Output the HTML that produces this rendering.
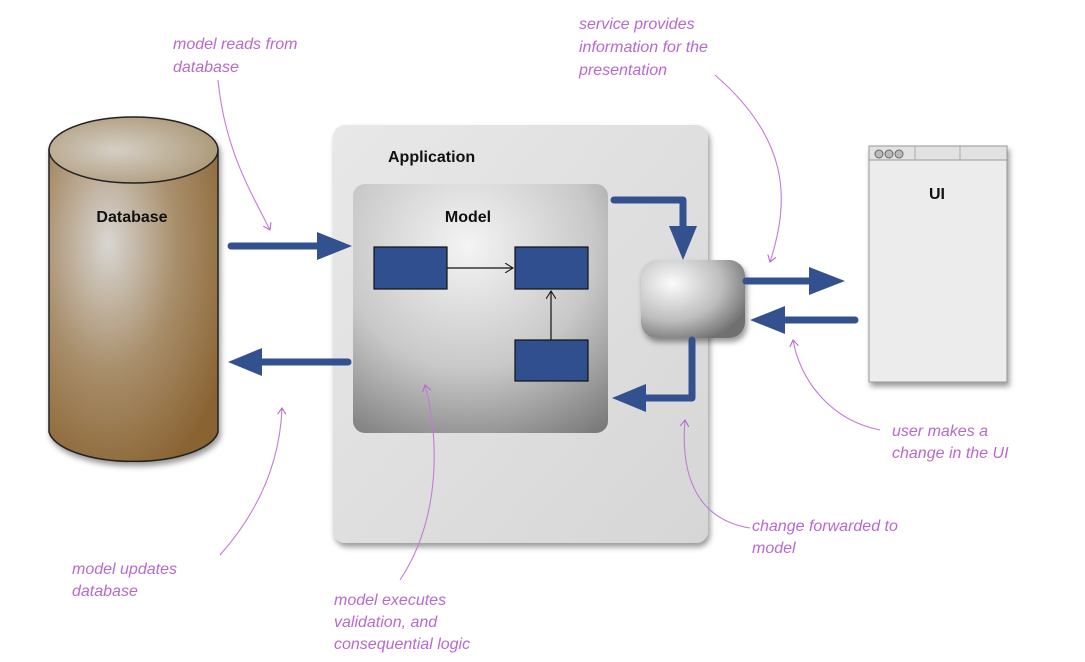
<!DOCTYPE html>
<html><head><meta charset="utf-8"><style>
body{margin:0;background:#fff;width:1085px;height:662px;overflow:hidden}
svg{display:block}
.a{font-family:"Liberation Sans",sans-serif;font-style:italic;font-size:16px;fill:#b968cf}
.b{font-family:"Liberation Sans",sans-serif;font-weight:bold;font-size:16px;fill:#111}
</style></head><body>
<svg width="1085" height="662" viewBox="0 0 1085 662" xmlns="http://www.w3.org/2000/svg">
<defs>
<radialGradient id="db" cx="0.35" cy="0.3" r="0.8">
<stop offset="0" stop-color="#d8d6d2"/><stop offset="0.5" stop-color="#a98f6c"/><stop offset="1" stop-color="#8a6332"/>
</radialGradient>
<radialGradient id="dbt" cx="0.4" cy="0.5" r="0.7">
<stop offset="0" stop-color="#d5cfc5"/><stop offset="1" stop-color="#a8926f"/>
</radialGradient>
<linearGradient id="app" x1="0" y1="0" x2="1" y2="1">
<stop offset="0" stop-color="#e8e8e8"/><stop offset="1" stop-color="#d6d6d6"/>
</linearGradient>
<radialGradient id="mod" cx="0.45" cy="0.25" r="0.9">
<stop offset="0" stop-color="#f4f4f4"/><stop offset="0.55" stop-color="#c8c8c8"/><stop offset="1" stop-color="#7a7a7a"/>
</radialGradient>
<radialGradient id="svc" cx="0.3" cy="0.3" r="0.8">
<stop offset="0" stop-color="#fbfbfb"/><stop offset="0.6" stop-color="#bdbdbd"/><stop offset="1" stop-color="#6f6f6f"/>
</radialGradient>
<filter id="sh" x="-10%" y="-10%" width="130%" height="130%"><feDropShadow dx="2" dy="4" stdDeviation="3" flood-opacity="0.4"/></filter>
<marker id="pa" markerWidth="8" markerHeight="8" refX="6" refY="4" orient="auto"><path d="M0,0 L6,4 L0,8" fill="none" stroke="#b968cf" stroke-width="1"/></marker>
<marker id="ka" markerWidth="10" markerHeight="10" refX="8" refY="5" orient="auto" markerUnits="userSpaceOnUse"><path d="M0,0 L8,5 L0,10" fill="none" stroke="#111" stroke-width="1"/></marker>
</defs>

<!-- Database -->
<g filter="url(#sh)">
<path d="M49,150 L49,432 A85,33 0 0 0 218,432 L218,150 Z" fill="url(#db)" stroke="#222" stroke-width="1.5"/>
<ellipse cx="133.5" cy="150" rx="84.5" ry="33" fill="url(#dbt)" stroke="#222" stroke-width="1.5"/>
</g>
<text class="b" x="132" y="222" text-anchor="middle" font-size="17">Database</text>

<!-- Application -->
<rect x="333" y="125" width="375" height="418" rx="12" fill="url(#app)" filter="url(#sh)"/>
<text class="b" x="388" y="162">Application</text>
<rect x="353" y="184" width="255" height="249" rx="12" fill="url(#mod)"/>
<text class="b" x="468" y="222" text-anchor="middle">Model</text>
<rect x="374" y="247" width="73" height="42" fill="#2f4f8f" stroke="#111" stroke-width="1.2"/>
<rect x="515" y="247" width="73" height="42" fill="#2f4f8f" stroke="#111" stroke-width="1.2"/>
<rect x="515" y="340" width="73" height="41" fill="#2f4f8f" stroke="#111" stroke-width="1.2"/>
<line x1="447" y1="268" x2="513" y2="268" stroke="#111" stroke-width="1.2" marker-end="url(#ka)"/>
<line x1="551" y1="340" x2="551" y2="291" stroke="#111" stroke-width="1.2" marker-end="url(#ka)"/>

<!-- Service -->
<rect x="641" y="260" width="104" height="78" rx="16" fill="url(#svc)" filter="url(#sh)"/>

<!-- UI -->
<g filter="url(#sh)">
<rect x="869" y="146" width="138" height="236" fill="#ececec" stroke="#999" stroke-width="1"/>
<rect x="869" y="146" width="138" height="14" fill="#e2e2e2" stroke="#999" stroke-width="1"/>
</g>
<line x1="915" y1="146" x2="915" y2="160" stroke="#aaa"/>
<line x1="960" y1="146" x2="960" y2="160" stroke="#aaa"/>
<circle cx="879" cy="154" r="4" fill="#bbb" stroke="#666"/>
<circle cx="889" cy="154" r="4" fill="#bbb" stroke="#666"/>
<circle cx="899" cy="154" r="4" fill="#bbb" stroke="#666"/>
<text class="b" x="937" y="199" text-anchor="middle" font-size="17">UI</text>

<!-- Blue arrows -->
<g stroke="#33518f" stroke-width="7" fill="none" stroke-linecap="round" stroke-linejoin="round">
<line x1="231" y1="246" x2="320" y2="246"/>
<line x1="348" y1="362" x2="260" y2="362"/>
<polyline points="614,200 683,200 683,228"/>
<polyline points="692,340 692,398 645,398"/>
<line x1="746" y1="281" x2="812" y2="281"/>
<line x1="855" y1="320" x2="783" y2="320"/>
</g>
<g fill="#33518f">
<polygon points="317,232 352,246 317,260"/>
<polygon points="262,348 228,362 262,376"/>
<polygon points="669,226 697,226 683,260"/>
<polygon points="646,384 612,398 646,412"/>
<polygon points="809,267 845,281 809,295"/>
<polygon points="785,306 750,320 785,334"/>
</g>

<!-- Purple annotation lines -->
<g stroke="#c27bd8" stroke-width="1.1" fill="none" marker-end="url(#pa)">
<path d="M218,80 C225,150 250,190 270,230"/>
<path d="M220,555 C260,510 280,460 282,408"/>
<path d="M400,580 C440,520 440,440 425,385"/>
<path d="M715,75 C790,140 790,200 770,262"/>
<path d="M750,528 C700,520 680,480 685,420"/>
<path d="M880,430 C830,420 800,380 793,340"/>
</g>

<!-- Annotation text -->
<text class="a" x="173" y="49">model reads from</text>
<text class="a" x="173" y="72">database</text>
<text class="a" x="579" y="29">service provides</text>
<text class="a" x="579" y="52">information for the</text>
<text class="a" x="579" y="75">presentation</text>
<text class="a" x="892" y="436">user makes a</text>
<text class="a" x="892" y="458">change in the UI</text>
<text class="a" x="752" y="531">change forwarded to</text>
<text class="a" x="752" y="553">model</text>
<text class="a" x="72" y="574">model updates</text>
<text class="a" x="72" y="596">database</text>
<text class="a" x="334" y="605">model executes</text>
<text class="a" x="334" y="627">validation, and</text>
<text class="a" x="334" y="649">consequential logic</text>
</svg>
</body></html>
